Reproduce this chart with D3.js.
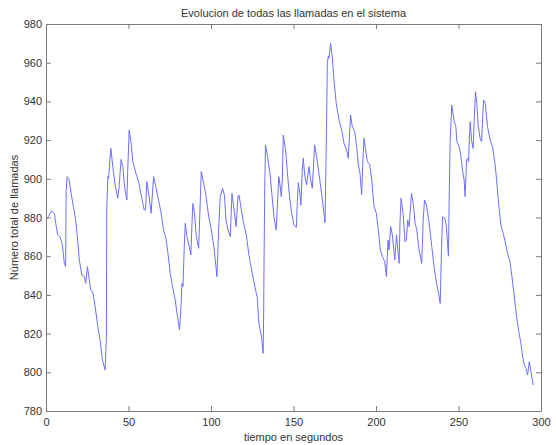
<!DOCTYPE html>
<html>
<head>
<meta charset="utf-8">
<script src="https://cdn.jsdelivr.net/npm/d3@7"></script>
<style>
  body { margin: 0; background: #fff; }
  text { font-family: "Liberation Sans", Arial, sans-serif; }
</style>
</head>
<body>
<svg id="chart"></svg>
<script>
// data: time (s) and total calls
var tiempo = [0, 1.4, 3.4, 5.1, 5.9, 7.1, 8.5, 9.9, 11.1, 11.9, 12.2, 12.8, 14, 15.2, 16.6, 18, 19, 20.2, 21.7, 23.3,
  24.1, 25.1, 26.1, 27.1, 28.3, 29.8, 31.4, 32.8, 34.2, 35.8, 36.6, 36.8, 37.5, 37.9, 39.3, 40.5, 41.9, 43.5, 44.3, 45.5,
  46.6, 47.6, 49, 49.6, 50.4, 51.6, 52.6, 54.5, 56.1, 58.1, 59.5, 60.3, 61.1, 62.5, 63.7, 65.2, 66.8, 68.2, 69.8, 71.2,
  72.7, 73.9, 75.3, 76.7, 78.3, 79.7, 80.9, 81.8, 82.4, 83, 83.8, 84.4, 85.4, 86.8, 87.8, 88.4, 89, 90, 91.1, 92.5,
  93.1, 94.1, 95.5, 96.9, 98.6, 100.2, 101.6, 102.6, 103.6, 104.6, 105.6, 107, 108.1, 109.1, 110.3, 111.7, 112.7, 113.7, 115.2, 116.4,
  117, 118.4, 119.8, 121.4, 122.9, 123.9, 125, 127, 128, 129, 130.6, 131.6, 131.9, 132.2, 132.6, 133, 134.3, 135.7, 136.7, 138.1,
  139.5, 140.5, 141.1, 141.7, 142.6, 143.2, 143.8, 145.2, 146.2, 147.2, 148.6, 150.2, 151.7, 152.3, 152.9, 153.9, 154.5, 155.3, 155.9, 156.9,
  157.9, 159.4, 160.4, 161.4, 162.8, 164, 165.4, 167, 168, 169.1, 170.1, 170.5, 171.1, 171.5, 172.5, 173.5, 174.5, 175.9, 177.6, 179.2,
  180.6, 182.2, 183.2, 184.6, 185.6, 187.1, 188.3, 189.3, 190.3, 191.3, 192.1, 192.7, 193.7, 194.8, 196.2, 197.4, 198.8, 200.2, 201.4, 202.6,
  203.9, 205.3, 206.3, 207.3, 207.9, 208.9, 209.9, 211.4, 212.4, 213.2, 214, 214.6, 215.2, 216.4, 217.6, 218.4, 219.2, 220.1, 220.9, 221.5,
  222.7, 223.7, 224.7, 226.1, 227.7, 228.6, 229.4, 230.6, 232.2, 233.8, 235.2, 236.7, 237.9, 238.9, 239.7, 240.3, 241.7, 242.6, 243.3, 243.9,
  244.3, 244.9, 245.9, 247.4, 248.4, 249, 250.4, 251.4, 252.4, 253.4, 254, 254.9, 255.5, 256.1, 256.7, 257.1, 257.9, 258.9, 259.5, 260.3,
  261.1, 261.9, 263.1, 264, 264.6, 265.2, 266.2, 267.6, 269.2, 270.6, 272.1, 273.1, 274.3, 275.7, 277.1, 278.3, 279.7, 281.2, 282.4, 283.8,
  285.2, 286.4, 287.8, 288.9, 289.9, 290.9, 291.9, 292.9, 293.9, 295.3];
var llamadas = [879, 880.4, 883.5, 882, 877, 871, 870, 866, 856.3, 854.6, 893.4, 901.1, 899.4, 892.5, 885.6, 878.7, 870, 858, 850.3, 849.4,
  846, 854.6, 848.6, 842.5, 841.7, 833.9, 823.6, 816.7, 806.3, 801.2, 817.5, 883.9, 901.1, 900.2, 915.8, 906.3, 896.8, 889.9, 895.9, 910,
  906.3, 895.9, 889, 906.3, 925.2, 918.3, 908.9, 902.8, 898.5, 889.9, 883.9, 884, 898.5, 890.8, 882.2, 901.1, 895, 889, 882.2, 873.5,
  869.2, 861.5, 851.1, 844.3, 837.4, 828.7, 821.9, 833.9, 846, 844.3, 865, 877, 870.1, 865, 860.6, 875.3, 887.3, 882.2, 870.1, 864.1,
  878.7, 903.7, 897.7, 891.6, 880.4, 873.5, 865.8, 858, 849.4, 873.5, 890.8, 895, 891.6, 878.7, 873.5, 870.1, 892.5, 885.6, 875.3, 891.1,
  891.6, 883.9, 877, 871, 861, 856.3, 851.1, 842.5, 839, 825.3, 818.4, 809.8, 828.7, 863.2, 895.9, 917.5, 911.4, 902.8, 894.2, 880.4,
  873.5, 890.8, 901.1, 897.7, 890.8, 899.4, 922.6, 914.9, 904.5, 894.2, 883.9, 876.1, 874.9, 887.3, 898, 892.5, 886.4, 904.5, 910.6, 901.1,
  896.8, 906.3, 899.4, 895.1, 917.5, 911.4, 902.8, 892.5, 885.6, 877.3, 932.1, 959.7, 963.5, 962.3, 970, 963.1, 951.1, 939, 930.4, 925.2,
  918.3, 914.9, 910.6, 933, 927, 924.4, 916.6, 907.2, 902.9, 891.7, 909.7, 921, 914.9, 908.9, 907.2, 899.4, 885.6, 882.2, 873.6, 863.2,
  859.8, 857.2, 849.5, 868.4, 863.2, 875.3, 871, 858.1, 871, 864.1, 856.3, 878.7, 889.9, 882.2, 867.5, 868.4, 878.7, 875.3, 885.6, 892.5,
  886.5, 877, 873.6, 863.2, 856.3, 878.7, 889, 886.5, 877, 865, 854.6, 846, 840.8, 835.6, 863.2, 880.4, 879.6, 876, 867.5, 860,
  887.3, 918.3, 938.1, 929.5, 927, 919.2, 916.6, 912.3, 904.5, 899.4, 890.8, 909.7, 910.6, 908.9, 923.5, 929.5, 920, 915.7, 930.4, 945,
  939, 927.8, 920.9, 919.2, 930.4, 940.7, 939, 926.9, 920, 916.6, 908, 899.4, 887.3, 876.1, 871.8, 867.5, 861.5, 857.2, 849.4, 839.1,
  828.7, 821.8, 815, 808, 803.7, 802, 798.6, 805.5, 800.3, 793.4];

var xTicks = [0, 50, 100, 150, 200, 250, 300];
var yTicks = [780, 800, 820, 840, 860, 880, 900, 920, 940, 960, 980];

var width = 556, height = 445;
var margin = {top: 24, right: 15, bottom: 34, left: 46};
var axisColor = "#7a7a7a";
var textColor = "#333";

var svg = d3.select("#chart")
  .attr("width", width)
  .attr("height", height);

var x = d3.scaleLinear().domain([0, 300]).range([margin.left, width - margin.right]);
var y = d3.scaleLinear().domain([780, 980]).range([height - margin.bottom, margin.top]);

var points = tiempo.map(function(t, i) { return [t, llamadas[i]]; });

// the series
var line = d3.line()
  .x(function(d) { return x(d[0]); })
  .y(function(d) { return y(d[1]); });

svg.append("path")
  .datum(points)
  .attr("fill", "none")
  .attr("stroke", "#6e6eff")
  .attr("stroke-width", 1)
  .attr("stroke-linejoin", "round")
  .attr("d", line);

// box with inward ticks on every side (matlab style)
var tickLen = 5;
var gx = svg.append("g").attr("transform", "translate(0," + y.range()[0] + ")")
  .call(d3.axisBottom(x).tickValues(xTicks).tickSizeInner(-tickLen).tickSizeOuter(0).tickPadding(7));
var gxTop = svg.append("g").attr("transform", "translate(0," + y.range()[1] + ")")
  .call(d3.axisTop(x).tickValues(xTicks).tickSizeInner(-tickLen).tickSizeOuter(0).tickFormat(""));
var gy = svg.append("g").attr("transform", "translate(" + x.range()[0] + ",0)")
  .call(d3.axisLeft(y).tickValues(yTicks).tickSizeInner(-tickLen).tickSizeOuter(0).tickPadding(4));
var gyRight = svg.append("g").attr("transform", "translate(" + x.range()[1] + ",0)")
  .call(d3.axisRight(y).tickValues(yTicks).tickSizeInner(-tickLen).tickSizeOuter(0).tickFormat(""));

[gx, gxTop, gy, gyRight].forEach(function(g) {
  g.selectAll("path.domain").attr("stroke", axisColor);
  g.selectAll(".tick line").attr("stroke", axisColor);
  g.selectAll(".tick text")
    .attr("fill", textColor)
    .style("font-size", "11px")
    .style("font-family", "'Liberation Sans', Arial, sans-serif");
});

// titles
svg.append("text")
  .attr("x", (x.range()[0] + x.range()[1]) / 2)
  .attr("y", 17)
  .attr("text-anchor", "middle")
  .attr("fill", textColor)
  .style("font-size", "11px")
  .text("Evolucion de todas las llamadas en el sistema");

svg.append("text")
  .attr("x", (x.range()[0] + x.range()[1]) / 2)
  .attr("y", 441)
  .attr("text-anchor", "middle")
  .attr("fill", textColor)
  .style("font-size", "11px")
  .text("tiempo en segundos");

svg.append("text")
  .attr("transform", "translate(18," + (y.range()[0] + y.range()[1]) / 2 + ") rotate(-90)")
  .attr("text-anchor", "middle")
  .attr("fill", textColor)
  .style("font-size", "11px")
  .text("Número total de llamadas");
</script>
</body>
</html>
